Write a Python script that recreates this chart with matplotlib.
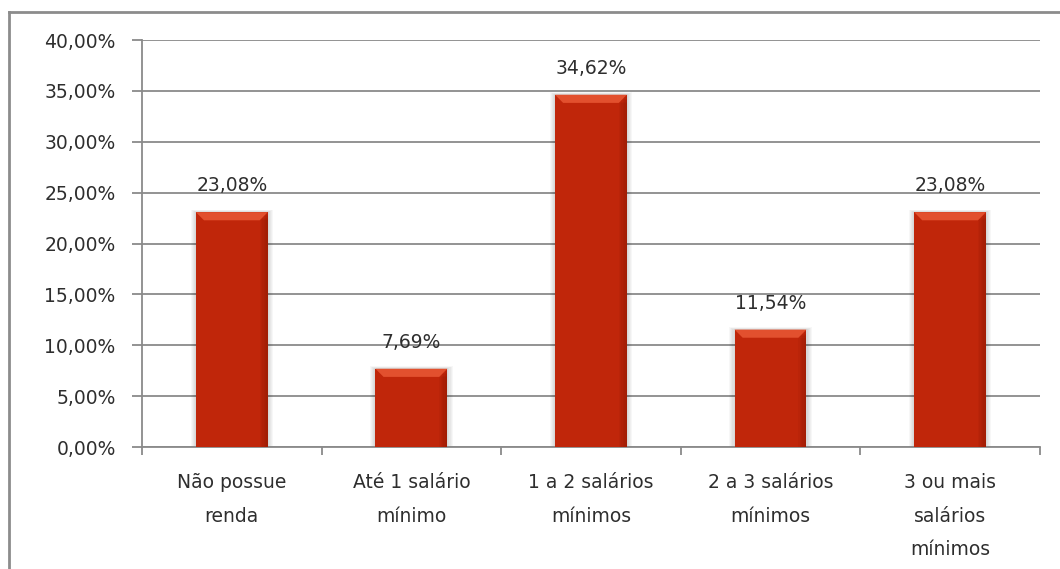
import matplotlib
matplotlib.use("Agg")
import matplotlib.pyplot as plt
from matplotlib.lines import Line2D
from matplotlib.patches import Polygon, Rectangle
from matplotlib.ticker import FuncFormatter, FixedLocator
import numpy as np

categories = [
    "Não possue\nrenda",
    "Até 1 salário\nmínimo",
    "1 a 2 salários\nmínimos",
    "2 a 3 salários\nmínimos",
    "3 ou mais\nsalários\nmínimos",
]
shares = [23.08, 7.69, 34.62, 11.54, 23.08]
y_ticks = [0, 5, 10, 15, 20, 25, 30, 35, 40]

BAR = "#c0260a"
BEVEL = "#e2502e"
EDGE_DARK = "#7a1404"
GRID = "#8a8a8a"
TEXT = "#2e2e2e"

plt.rcParams["font.family"] = "DejaVu Sans"

fig = plt.figure(figsize=(10.6, 5.69), dpi=100)
ax = fig.add_axes([0.134, 0.2144, 0.847, 0.7153])

x = np.arange(len(categories))
bars = ax.bar(x, shares, width=0.4, color=BAR, zorder=3)

# bevelled top and darker right-hand edge, sized from each bar's own extents
bevel_h = 0.8
bevel_w = 0.045
for b in bars:
    x0, w, h = b.get_x(), b.get_width(), b.get_height()
    x1 = x0 + w
    ax.add_patch(Polygon([(x0, h), (x1, h), (x1 - bevel_w, h - bevel_h),
                          (x0 + bevel_w, h - bevel_h)],
                         closed=True, color=BEVEL, lw=0, zorder=4))
    for k in range(6):
        sw = bevel_w * (6 - k) / 6
        ax.add_patch(Rectangle((x1 - sw, 0), sw, h - bevel_h * (sw / bevel_w),
                               color=EDGE_DARK, alpha=0.08, lw=0, zorder=4))
    # soft shadow on both sides
    for k in range(5):
        off = 0.006 * (k + 1)
        ax.add_patch(Rectangle((x0 - off, 0), w + 2 * off, h + 0.05 * (k + 1),
                               color="black", alpha=0.03, lw=0, zorder=2))

for xi, v in zip(x, shares):
    ax.annotate(f"{v:.2f}%".replace(".", ","), (xi, v), xytext=(0, 12),
                textcoords="offset points", ha="center", va="bottom",
                fontsize=13.5, color=TEXT, zorder=5)

ax.set_xlim(-0.5, len(categories) - 0.5)
ax.set_ylim(0, 40)
ax.set_yticks(y_ticks)
ax.yaxis.set_major_formatter(FuncFormatter(lambda v, _: f"{v:.2f}%".replace(".", ",")))
ax.yaxis.grid(True, color=GRID, lw=1.3, zorder=1)
ax.set_axisbelow(True)

ax.set_xticks(x)
ax.set_xticklabels(categories, fontsize=13.5, color=TEXT, linespacing=1.95)
ax.xaxis.set_minor_locator(FixedLocator(np.arange(-0.5, len(categories), 1.0)))
ax.tick_params(axis="x", which="major", length=0, pad=19)
ax.tick_params(axis="x", which="minor", length=6, width=1.3, color=GRID)
ax.tick_params(axis="y", length=7, width=1.3, color=GRID, labelsize=13.5,
               labelcolor=TEXT, pad=12)

for side in ("top", "right"):
    ax.spines[side].set_visible(False)
for side in ("left", "bottom"):
    ax.spines[side].set_color(GRID)
    ax.spines[side].set_linewidth(1.3)

# chart-area frame
fig.add_artist(Line2D([0.0085, 0.0085], [0.0, 0.979], color="#8c8c8c", lw=2,
                      transform=fig.transFigure))
fig.add_artist(Line2D([0.0085, 1.0], [0.979, 0.979], color="#8c8c8c", lw=2,
                      transform=fig.transFigure))

fig.savefig("out.png", dpi=100)
